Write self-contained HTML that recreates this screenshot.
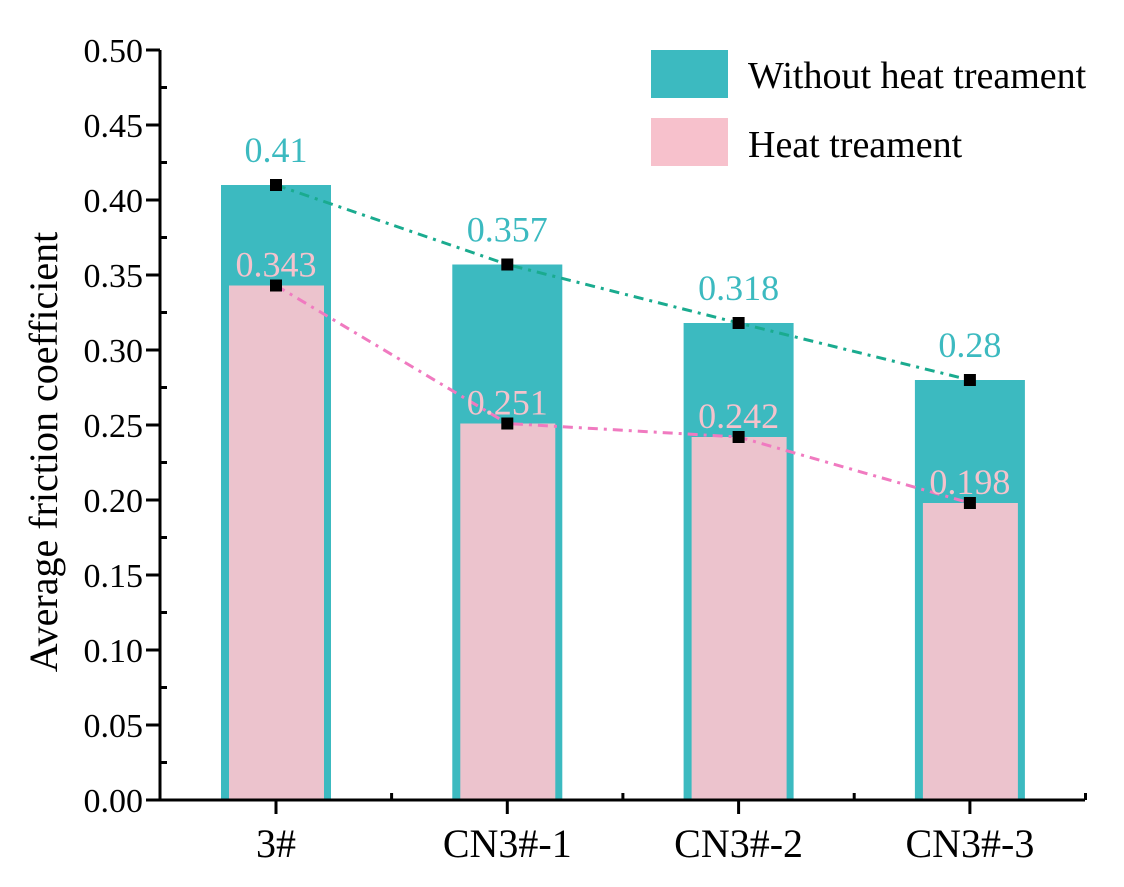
<!DOCTYPE html>
<html><head><meta charset="utf-8"><style>body{margin:0;background:#fff}svg{display:block;font-family:"Liberation Serif",serif}</style></head>
<body>
<svg id="c" width="1124" height="887"></svg>
<script>
const categories=["3#","CN3#-1","CN3#-2","CN3#-3"];
const withoutHeat=[0.41,0.357,0.318,0.28];
const heat=[0.343,0.251,0.242,0.198];
const withoutLabels=["0.41","0.357","0.318","0.28"];
const heatLabels=["0.343","0.251","0.242","0.198"];
const yTicks=["0.00","0.05","0.10","0.15","0.20","0.25","0.30","0.35","0.40","0.45","0.50"];
const NS="http://www.w3.org/2000/svg";
const svg=document.getElementById('c');
const X0=160,X1=1085,Y0=800,Y1=50;
const y=v=>Y0-(v/0.5)*(Y0-Y1);
const x=i=>276+i*231.3;
function el(t,a,p){const e=document.createElementNS(NS,t);for(const k in a)e.setAttribute(k,a[k]);(p||svg).appendChild(e);return e;}
categories.forEach((c,i)=>{
  const b=el('rect',{x:x(i)-55,y:y(withoutHeat[i]),width:110,height:Y0-y(withoutHeat[i]),fill:'#3cbac0'});
  
  
  const p=el('rect',{x:x(i)-47,y:y(heat[i]),width:95,height:Y0-y(heat[i]),fill:'#ecc3cd'});
  
  
});
function line(vals,col,name){
  let d=vals.map((v,i)=>(i?'L':'M')+x(i)+' '+y(v)).join(' ');
  const l=el('path',{d:d,fill:'none',stroke:col,'stroke-width':3,'stroke-dasharray':'10 6 3 6'});
  
  
}
line(withoutHeat,'#1aab8f','trend-line-without-heat');
line(heat,'#f07ac0','trend-line-heat');
function pts(vals,labels,col,name,off){
  vals.forEach((v,i)=>{
    const m=el('rect',{x:x(i)-6,y:y(v)-6,width:12,height:12,fill:'#000'});
    
    
    const t=el('text',{x:x(i),y:y(v)-off,'text-anchor':'middle','font-size':36,fill:col});
    t.textContent=labels[i];
    
    
  });
}
pts(withoutHeat,withoutLabels,'#3cbac0','without-heat',23);
pts(heat,heatLabels,'#f5c2cc','heat',9);
el('line',{x1:X0,y1:Y1,x2:X0,y2:Y0+1.5,stroke:'#000','stroke-width':3});
el('line',{x1:X0-1.5,y1:Y0,x2:X1,y2:Y0,stroke:'#000','stroke-width':3});
yTicks.forEach((s,i)=>{
  const v=i*0.05;
  el('line',{x1:X0-14,y1:y(v),x2:X0,y2:y(v),stroke:'#000','stroke-width':3});
  if(i<10)el('line',{x1:X0,y1:y(v+0.025),x2:X0+7,y2:y(v+0.025),stroke:'#000','stroke-width':3});
  const t=el('text',{x:X0-17,y:y(v)+12,'text-anchor':'end','font-size':34});
  t.textContent=s;
  
  
});
categories.forEach((c,i)=>{
  el('line',{x1:x(i),y1:Y0,x2:x(i),y2:Y0+14,stroke:'#000','stroke-width':3});
  el('line',{x1:x(i)+115.6,y1:Y0,x2:x(i)+115.6,y2:Y0-7,stroke:'#000','stroke-width':3});
  const t=el('text',{x:x(i),y:Y0+57,'text-anchor':'middle','font-size':40});
  t.textContent=c;
  
  
});
const yl=el('text',{x:0,y:0,'text-anchor':'middle','font-size':40,transform:'translate(57,452) rotate(-90)'});
yl.textContent='Average friction coefficient';


const l1=el('rect',{x:651,y:50,width:77,height:48,fill:'#3cbac0'});


const l2=el('rect',{x:651,y:118,width:77,height:48,fill:'#f7c1cc'});


const t1=el('text',{x:748,y:88,'font-size':38});t1.textContent='Without heat treament';


const t2=el('text',{x:748,y:157,'font-size':38});t2.textContent='Heat treament';


</script>
</body></html>
